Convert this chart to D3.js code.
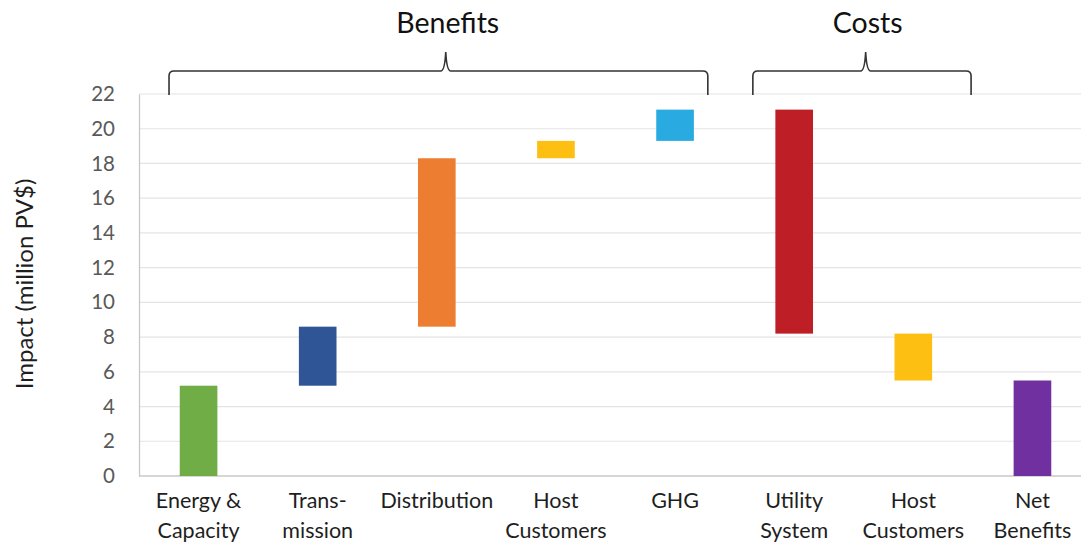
<!DOCTYPE html>
<html>
<head>
<meta charset="utf-8">
<script src="https://cdn.jsdelivr.net/npm/d3@7"></script>
<style>
  html, body { margin: 0; padding: 0; background: #fff; }
  svg { display: block; font-family: Lato, "Open Sans", sans-serif; }
</style>
</head>
<body>
<svg id="chart" width="1081" height="544"></svg>
<script>
// Waterfall of benefit and cost components (million PV$)
const categories = ["Energy & Capacity", "Transmission", "Distribution", "Host Customers (benefit)",
                    "GHG", "Utility System", "Host Customers (cost)", "Net Benefits"];
const categoryLabels = [["Energy &", "Capacity"], ["Trans-", "mission"], ["Distribution"], ["Host", "Customers"],
                        ["GHG"], ["Utility", "System"], ["Host", "Customers"], ["Net", "Benefits"]];
const barStart = [0, 5.2, 8.6, 18.3, 19.3, 21.1, 8.2, 0];
const barEnd   = [5.2, 8.6, 18.3, 19.3, 21.1, 8.2, 5.5, 5.5];
const barColors = ["#70AD47", "#2F5597", "#ED7D31", "#FDBF12", "#29ABE2", "#BE1E26", "#FDBF12", "#7030A0"];
const yTicks = [0, 2, 4, 6, 8, 10, 12, 14, 16, 18, 20, 22];
const groupNames = ["Benefits", "Costs"];

const svg = d3.select("#chart");
const W = 1081, H = 544;
const plot = { left: 139, right: 1092, top: 94, bottom: 476 };

const x = d3.scaleBand().domain(categories).range([plot.left, plot.right]).padding(0);
const y = d3.scaleLinear().domain([0, 22]).range([plot.bottom, plot.top]);
const barW = x.bandwidth() * 0.316;

// gridlines
svg.append("g").selectAll("line").data(yTicks.filter(t => t > 0)).join("line")
  .attr("x1", plot.left).attr("x2", W)
  .attr("y1", d => y(d)).attr("y2", d => y(d))
  .attr("stroke", "#e4e4e4").attr("stroke-width", 1.2);

// y axis
const yAxis = svg.append("g").attr("transform", `translate(${plot.left},0)`)
  .call(d3.axisLeft(y).tickValues(yTicks).tickSize(0).tickPadding(24));
yAxis.select(".domain").attr("stroke", "#c8c8c8").attr("stroke-width", 1.3);
yAxis.selectAll("text").attr("font-size", 20.5).attr("fill", "#595959")
  .attr("font-family", "Lato, 'Open Sans', sans-serif");

// baseline
svg.append("line").attr("x1", plot.left).attr("x2", W)
  .attr("y1", y(0)).attr("y2", y(0)).attr("stroke", "#c8c8c8").attr("stroke-width", 1.3);

// bars
svg.append("g").selectAll("rect").data(categories).join("rect")
  .attr("x", (d) => x(d) + x.bandwidth() / 2 - barW / 2)
  .attr("width", barW)
  .attr("y", (d, i) => y(Math.max(barStart[i], barEnd[i])))
  .attr("height", (d, i) => Math.abs(y(barStart[i]) - y(barEnd[i])))
  .attr("fill", (d, i) => barColors[i]);

// category labels
const lab = svg.append("g").selectAll("text").data(categories).join("text")
  .attr("x", d => x(d) + x.bandwidth() / 2)
  .attr("y", 508)
  .attr("text-anchor", "middle")
  .attr("font-size", 21.5).attr("fill", "#1e1e1e");
lab.each(function(d, i) {
  const t = d3.select(this);
  categoryLabels[i].forEach((line, k) => {
    t.append("tspan").attr("x", x(d) + x.bandwidth() / 2).attr("dy", k === 0 ? 0 : 30).text(line);
  });
});

// y axis title
svg.append("text")
  .attr("transform", "translate(33,284) rotate(-90)")
  .attr("text-anchor", "middle")
  .attr("font-size", 24).attr("fill", "#1e1e1e")
  .text("Impact (million PV$)");

// group braces above the plot, spans given in band units
const u = d3.scaleLinear().domain([0, categories.length]).range([plot.left, plot.right]);
const braces = [
  { name: groupNames[0], from: 0.252, to: 4.775, tip: 2.575 },
  { name: groupNames[1], from: 5.153, to: 6.985, tip: 6.1 }
];
const yLine = 71, yEnd = 95, yTip = 52, r = 5;
braces.forEach(b => {
  const x0 = u(b.from), x1 = u(b.to), xt = u(b.tip);
  const p = d3.path();
  p.moveTo(x0, yEnd);
  p.lineTo(x0, yLine + r);
  p.quadraticCurveTo(x0, yLine, x0 + r, yLine);
  p.lineTo(xt - 5, yLine);
  p.quadraticCurveTo(xt - 1, yLine, xt, yTip);
  p.quadraticCurveTo(xt + 1, yLine, xt + 5, yLine);
  p.lineTo(x1 - r, yLine);
  p.quadraticCurveTo(x1, yLine, x1, yLine + r);
  p.lineTo(x1, yEnd);
  svg.append("path").attr("d", p.toString())
    .attr("fill", "none").attr("stroke", "#333").attr("stroke-width", 1.6);
  svg.append("text").attr("x", xt + 2).attr("y", 33)
    .attr("text-anchor", "middle").attr("font-size", 28.5).attr("fill", "#111")
    .text(b.name);
});
</script>
</body>
</html>
